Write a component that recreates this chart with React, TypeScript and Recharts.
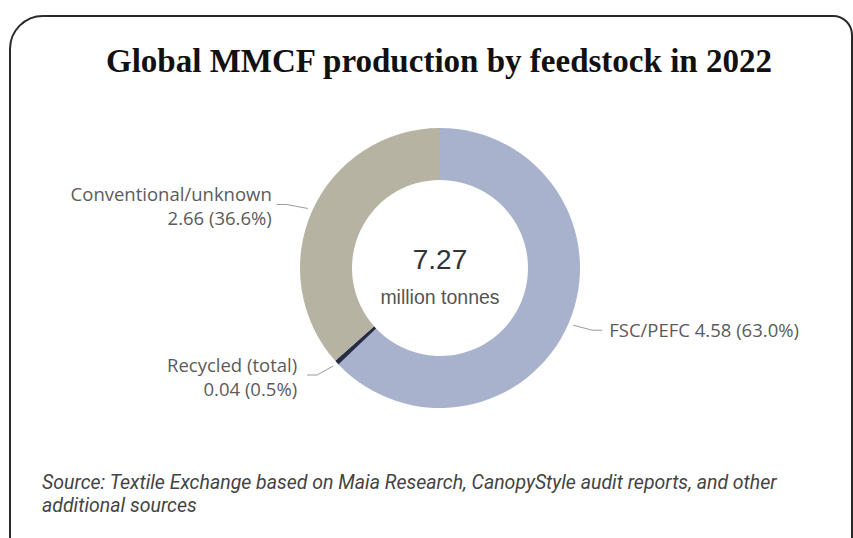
import { Cell, Label, Pie, PieChart } from 'recharts';

// feedstock shares of global man-made cellulosic fibre output, 2022 (million tonnes)
const feedstocks = ['FSC/PEFC', 'Recycled (total)', 'Conventional/unknown'];
const volumes = [4.58, 0.04, 2.66];
const shares = ['63.0%', '0.5%', '36.6%'];
const totalVolume = '7.27';
const totalUnit = 'million tonnes';

const title = 'Global MMCF production by feedstock in 2022';
const sourceLines = [
    'Source: Textile Exchange based on Maia Research, CanopyStyle audit reports, and other',
    'additional sources',
];

const sliceColors = ['#a9b2cc', '#262d45', '#b6b3a3'];

// leader line offsets per slice (from a point just outside the ring)
const leaders = [
    { dx: 29, dy: 5, gap: 7, anchor: 'start', oneLine: true },
    { dx: -26, dy: 9, gap: 10, anchor: 'end', oneLine: false },
    { dx: -31, dy: -4, gap: 5, anchor: 'end', oneLine: false },
];

const data = feedstocks.map((name, i) => ({ name, value: volumes[i], share: shares[i] }));

const RADIAN = Math.PI / 180;
const labelFont = '"Open Sans", sans-serif';

function renderLabel(props: any) {
    const { cx, cy, midAngle, outerRadius, index } = props;
    const d = data[index];
    const lead = leaders[index];
    const r = outerRadius + 5;
    const sx = cx + r * Math.cos(-midAngle * RADIAN);
    const sy = cy + r * Math.sin(-midAngle * RADIAN);
    const ex = sx + lead.dx;
    const ey = sy + lead.dy;
    // small elbow so the leader ends horizontally, like the original
    const mx = ex + (lead.dx > 0 ? -10 : 10);
    const tx = lead.anchor === 'start' ? ex + lead.gap : ex - lead.gap;
    const common = {
        fontFamily: labelFont,
        fontSize: 18.5,
        fill: '#5b5b5b',
        textAnchor: lead.anchor as any,
    };
    return (
        <g key={`lbl-${index}`}>
            <polyline
                points={`${sx},${sy} ${mx},${ey} ${ex},${ey}`}
                fill="none"
                stroke="#9a9a9a"
                strokeWidth={1}
            />
            {lead.oneLine ? (
                <text x={tx} y={ey + 7} {...common}>
                    {`${d.name} ${d.value.toFixed(2)} (${d.share})`}
                </text>
            ) : (
                <>
                    <text x={tx} y={ey - 3} {...common}>
                        {d.name}
                    </text>
                    <text x={tx} y={ey + 21} {...common}>
                        {`${d.value.toFixed(2)} (${d.share})`}
                    </text>
                </>
            )}
        </g>
    );
}

function CenterText(props: any) {
    const vb = props.viewBox || {};
    const cx = vb.cx ?? 440;
    const cy = vb.cy ?? 268;
    return (
        <g>
            <text
                x={cx}
                y={cy + 1}
                textAnchor="middle"
                fontFamily='"Liberation Sans", Arial, sans-serif'
                fontSize={28}
                fill="#333"
            >
                {totalVolume}
            </text>
            <text
                x={cx}
                y={cy + 36}
                textAnchor="middle"
                fontFamily='"Liberation Sans", Arial, sans-serif'
                fontSize={19.5}
                fill="#555"
            >
                {totalUnit}
            </text>
        </g>
    );
}

export default function App() {
    return (
        <div
            style={{
                position: 'fixed',
                left: 0,
                top: 0,
                width: 853,
                height: 538,
                overflow: 'hidden',
                background: '#fff',
            }}
        >
            <div
                style={{
                    position: 'absolute',
                    left: 9,
                    top: 15,
                    width: 840,
                    height: 560,
                    border: '2px solid #2a2a2a',
                    borderRadius: '34px 20px 20px 34px',
                }}
            />
            <svg width={853} height={538} style={{ position: 'absolute', left: 0, top: 0 }}>
                <text
                    x={439}
                    y={72}
                    textAnchor="middle"
                    fontFamily='"Liberation Serif", serif'
                    fontWeight={700}
                    fontSize={34}
                    fill="#111"
                    textLength={666}
                    lengthAdjust="spacingAndGlyphs"
                >
                    {title}
                </text>
                {sourceLines.map((line, i) => (
                    <text
                        key={i}
                        x={42}
                        y={489 + i * 23}
                        fontFamily="Roboto, sans-serif"
                        fontStyle="italic"
                        fontSize={19.5}
                        fill="#444"
                    >
                        {line}
                    </text>
                ))}
            </svg>
            <div style={{ position: 'absolute', left: 0, top: 0 }}>
                <PieChart width={853} height={538}>
                    <Pie
                        data={data}
                        dataKey="value"
                        nameKey="name"
                        cx={435}
                        cy={263}
                        innerRadius={88}
                        outerRadius={140}
                        startAngle={90}
                        endAngle={-270}
                        stroke="none"
                        label={renderLabel}
                        labelLine={false}
                        isAnimationActive={false}
                    >
                        {data.map((d, i) => (
                            <Cell key={d.name} fill={sliceColors[i]} />
                        ))}
                        <Label position="center" content={<CenterText />} />
                    </Pie>
                </PieChart>
            </div>
        </div>
    );
}
